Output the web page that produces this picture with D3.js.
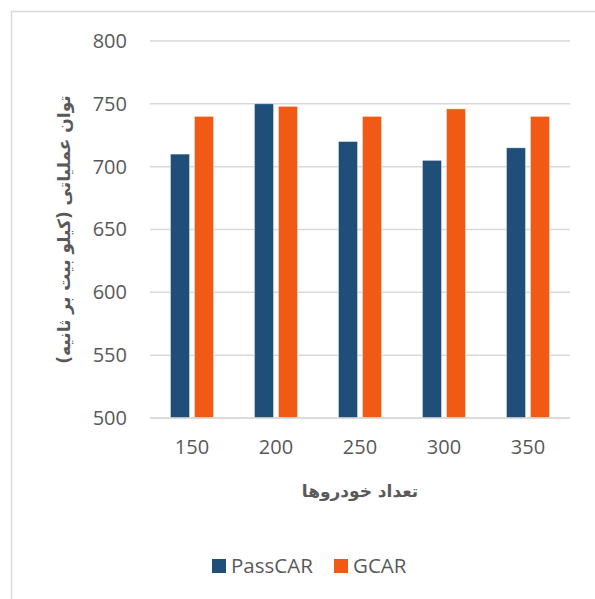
<!DOCTYPE html>
<html>
<head>
<meta charset="utf-8">
<script src="https://cdn.jsdelivr.net/npm/d3@7"></script>
<style>
  html, body { margin: 0; padding: 0; background: #fff; }
  svg { display: block; }
</style>
</head>
<body>
<script>
const categories = ["150", "200", "250", "300", "350"];
const seriesNames = ["PassCAR", "GCAR"];
const passCAR = [710, 750, 720, 705, 715];
const gCAR = [740, 748, 740, 746, 740];
const yTicks = [500, 550, 600, 650, 700, 750, 800];
const xTitle = "تعداد خودروها";
const yTitle = "توان عملیاتی (کیلو بیت بر ثانیه)";
const colors = ["#1f4e79", "#f05a14"];

(function () {
const W = 595, H = 599;
const svg = d3.select("body").append("svg").attr("width", W).attr("height", H);

// chart frame
svg.append("rect").attr("x", 11.5).attr("y", 11.5).attr("width", 700).attr("height", 700)
  .attr("fill", "none").attr("stroke", "#d9d9d9").attr("stroke-width", 1.5);

const pLeft = 150, pRight = 570, pTop = 41, pBottom = 418;

const y = d3.scaleLinear().domain([500, 800]).range([pBottom, pTop]);
const x0 = d3.scaleBand().domain(categories).range([pLeft, pRight])
  .paddingInner(0.488).paddingOuter(0.244);
const x1 = d3.scaleBand().domain(seriesNames).range([0, x0.bandwidth()]).paddingInner(0.208);

// gridlines
svg.append("g").selectAll("line").data(yTicks).join("line")
  .attr("x1", pLeft).attr("x2", pRight)
  .attr("y1", d => y(d)).attr("y2", d => y(d))
  .attr("stroke", "#d9d9d9").attr("stroke-width", 1.5);

// y tick labels
const yAxis = d3.axisLeft(y).tickValues(yTicks).tickSize(0).tickPadding(23);
const gy = svg.append("g").attr("transform", `translate(${pLeft},0)`).call(yAxis);
gy.select(".domain").remove();
gy.selectAll("text").attr("font-family", "'Open Sans', sans-serif").attr("font-size", 20)
  .attr("fill", "#595959");

// bars
const data = categories.map((c, i) => ({ c, vals: [passCAR[i], gCAR[i]] }));
const groups = svg.append("g").selectAll("g").data(data).join("g")
  .attr("transform", d => `translate(${x0(d.c)},0)`);
groups.selectAll("rect").data(d => d.vals.map((v, j) => ({ s: seriesNames[j], v, j })))
  .join("rect")
  .attr("x", d => x1(d.s))
  .attr("width", x1.bandwidth())
  .attr("y", d => y(d.v))
  .attr("height", d => y(500) - y(d.v))
  .attr("fill", d => colors[d.j])
  .attr("stroke", "#ffffff").attr("stroke-opacity", 0.5).attr("stroke-width", 0.75);

// x axis line
svg.append("line").attr("x1", pLeft).attr("x2", pRight).attr("y1", pBottom).attr("y2", pBottom)
  .attr("stroke", "#d9d9d9").attr("stroke-width", 1.5);

// x tick labels
const xAxis = d3.axisBottom(x0).tickSize(0).tickPadding(22);
const gx = svg.append("g").attr("transform", `translate(0,${pBottom})`).call(xAxis);
gx.select(".domain").remove();
gx.selectAll("text").attr("font-family", "'Open Sans', sans-serif").attr("font-size", 20)
  .attr("fill", "#595959");

// axis titles
svg.append("text").attr("x", (pLeft + pRight) / 2).attr("y", 497)
  .attr("text-anchor", "middle").attr("font-family", "'DejaVu Sans', sans-serif")
  .attr("font-weight", "bold").attr("font-size", 17).attr("fill", "#595959")
  .attr("direction", "rtl").text(xTitle);

svg.append("text").attr("transform", `translate(70,${(pTop + pBottom) / 2}) rotate(-90)`)
  .attr("text-anchor", "middle").attr("font-family", "'DejaVu Sans', sans-serif")
  .attr("font-weight", "bold").attr("font-size", 17).attr("fill", "#595959")
  .attr("direction", "rtl").text(yTitle);

// legend
const legendItems = [{ name: seriesNames[0], x: 212 }, { name: seriesNames[1], x: 334 }];
const lg = svg.append("g").selectAll("g").data(legendItems).join("g")
  .attr("transform", d => `translate(${d.x},559)`);
lg.append("rect").attr("width", 14).attr("height", 14).attr("fill", (d, i) => colors[i]);
lg.append("text").attr("x", 19).attr("y", 7).attr("dy", "0.35em")
  .attr("font-family", "'Open Sans', sans-serif").attr("font-size", 20.5).attr("fill", "#595959")
  .text(d => d.name);
})();
</script>
</body>
</html>
